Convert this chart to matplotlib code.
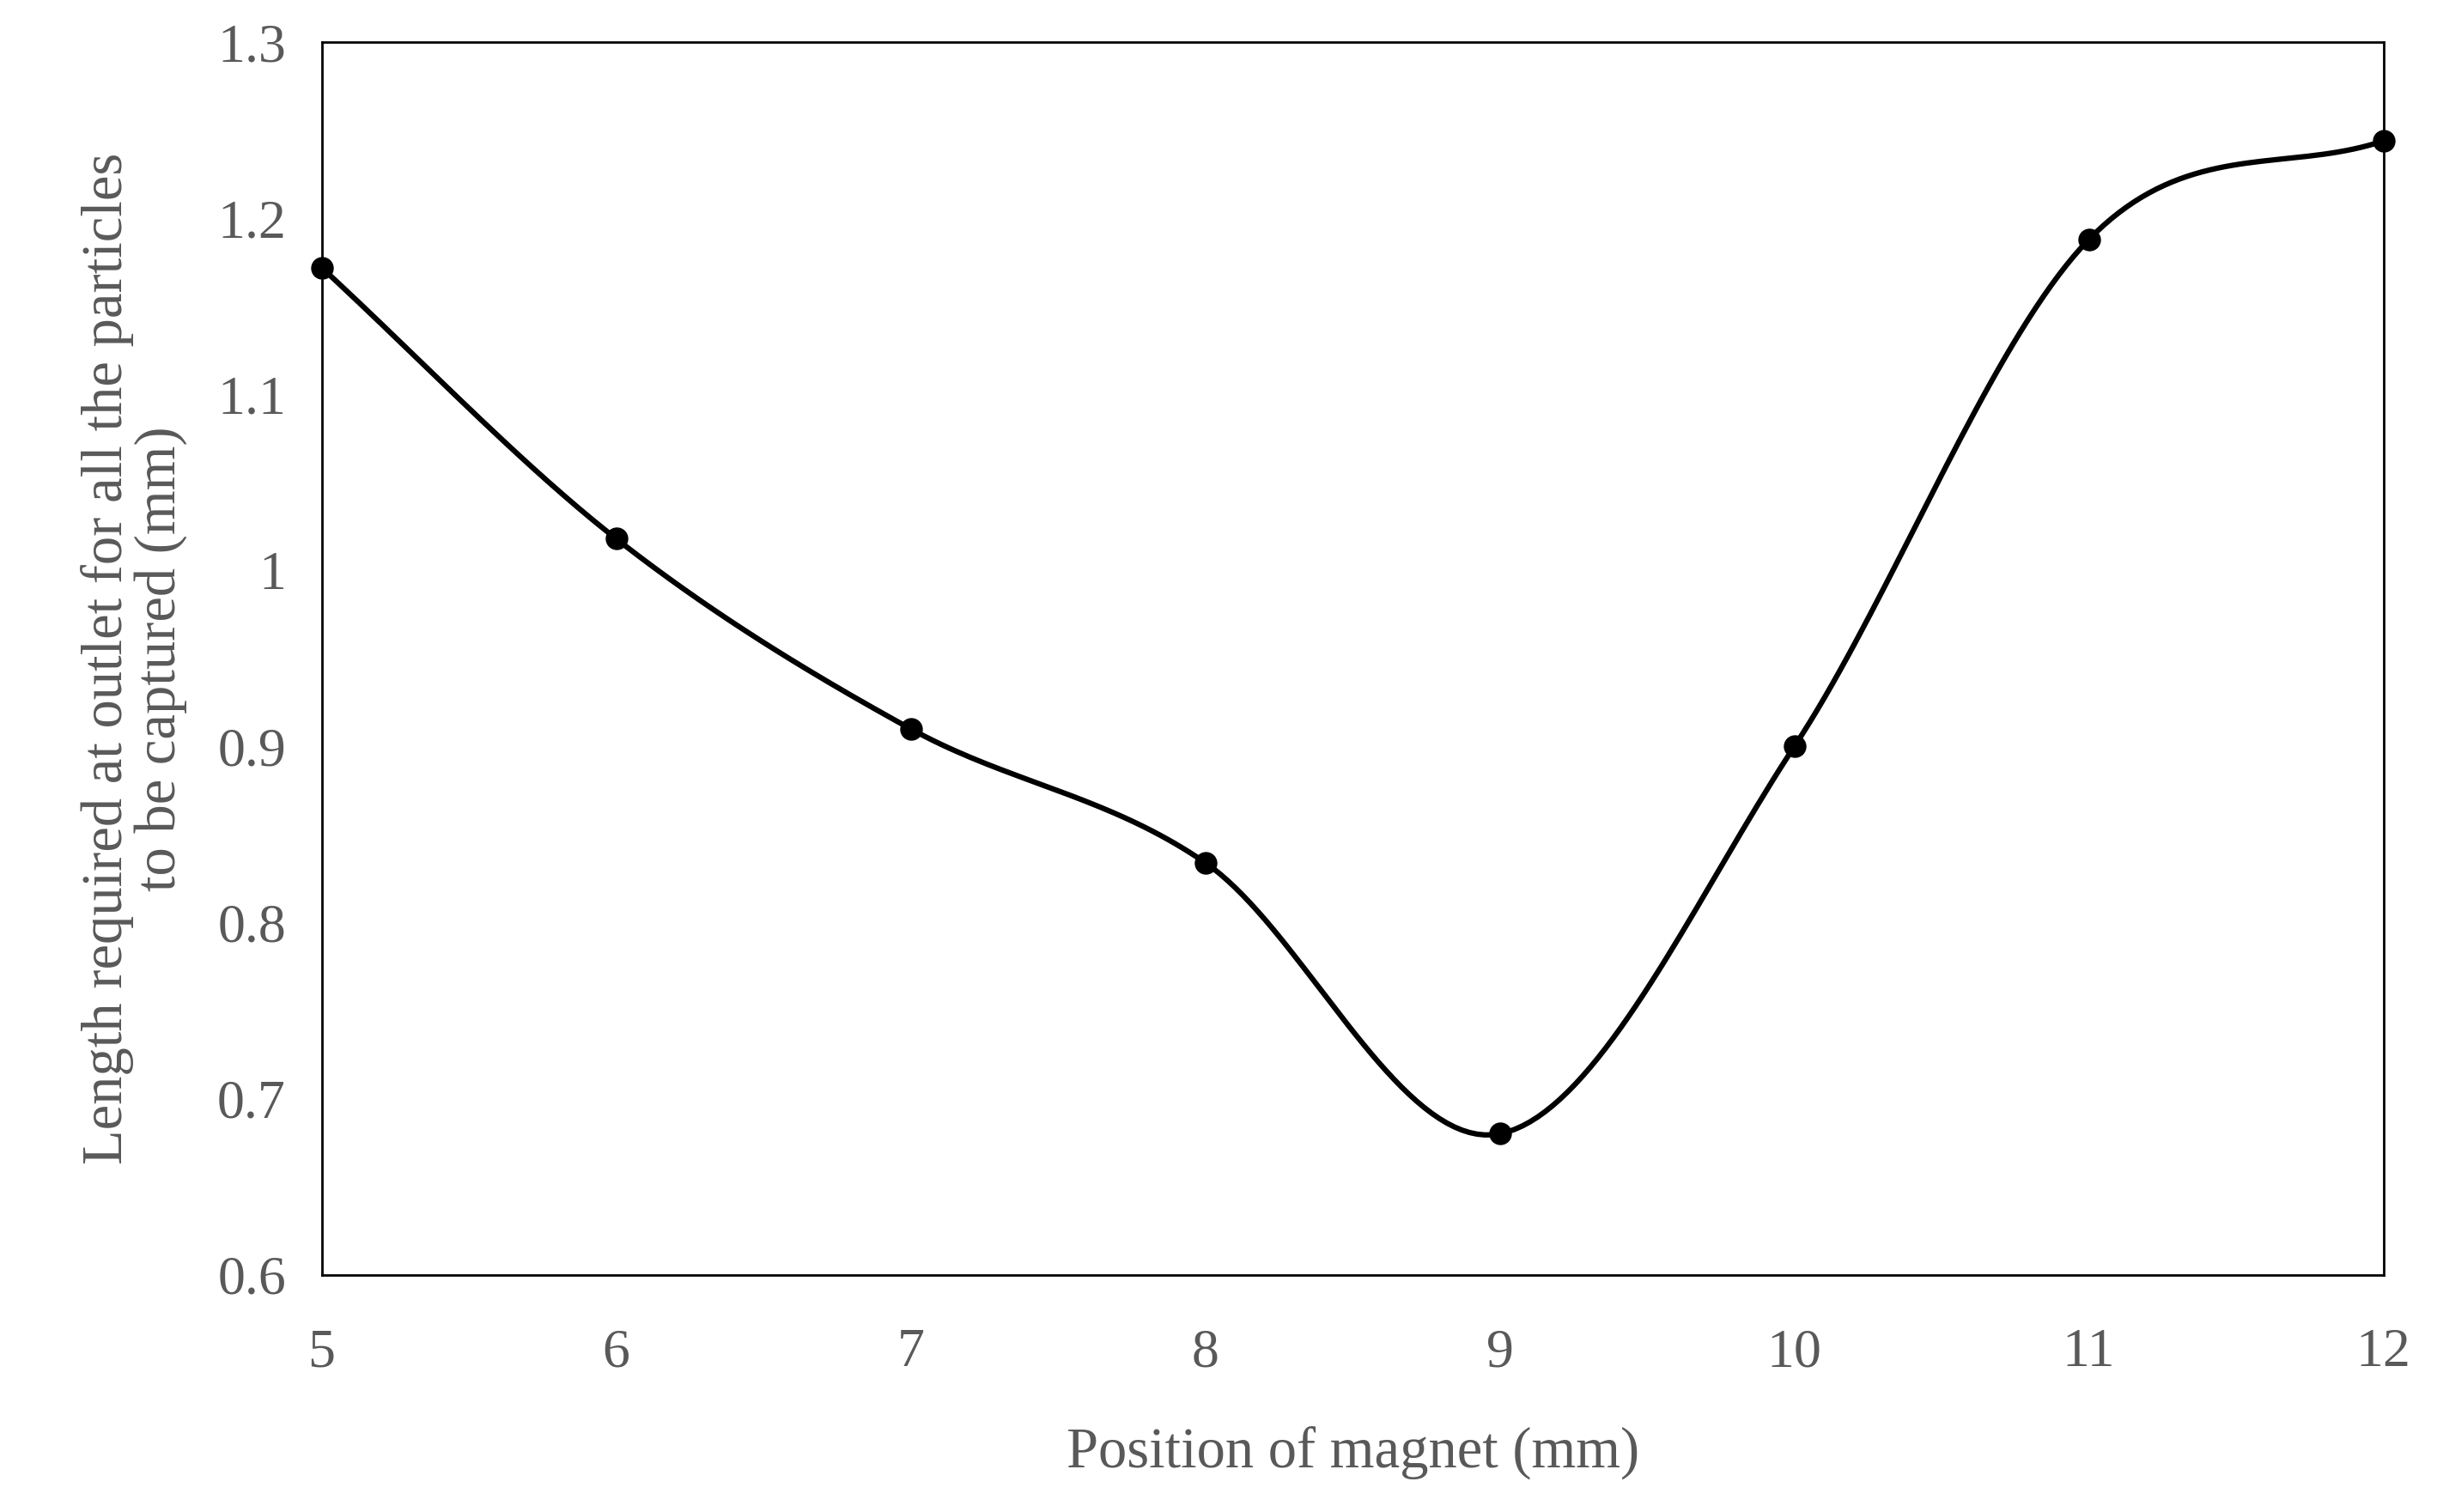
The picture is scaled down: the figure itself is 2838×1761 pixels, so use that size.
import numpy as np
import matplotlib

matplotlib.use("Agg")
import matplotlib.pyplot as plt  # noqa: E402

positions = [5, 6, 7, 8, 9, 10, 11, 12]
lengths = [1.172, 1.018, 0.910, 0.834, 0.680, 0.900, 1.188, 1.244]

GREY = "#595959"


def catmull_rom(x, y, n=40):
    # Excel-like smoothed line through the points
    x = np.asarray(x, float)
    y = np.asarray(y, float)
    px = np.concatenate([[2 * x[0] - x[1]], x, [2 * x[-1] - x[-2]]])
    py = np.concatenate([[2 * y[0] - y[1]], y, [2 * y[-1] - y[-2]]])
    xs, ys = [], []
    t = np.linspace(0, 1, n)
    for i in range(1, len(px) - 2):
        for p, out in ((px, xs), (py, ys)):
            p0, p1, p2, p3 = p[i - 1], p[i], p[i + 1], p[i + 2]
            out.extend(0.5 * (2 * p1 + (-p0 + p2) * t
                              + (2 * p0 - 5 * p1 + 4 * p2 - p3) * t ** 2
                              + (-p0 + 3 * p1 - 3 * p2 + p3) * t ** 3))
    return xs, ys


plt.rcParams["font.family"] = "Liberation Serif"
fig = plt.figure(figsize=(28.38, 17.61), dpi=100)
ax = fig.add_axes([0.132, 0.157, 0.846, 0.815])

sx, sy = catmull_rom(positions, lengths)
ax.plot(sx, sy, color="black", lw=4.5, clip_on=False)
ax.plot(positions, lengths, "o", color="black", ms=18, clip_on=False, zorder=4)

ax.set_xlim(5, 12)
ax.set_ylim(0.6, 1.3)
ax.set_yticks(np.arange(0.6, 1.31, 0.1))
ax.set_yticklabels(["0.6", "0.7", "0.8", "0.9", "1", "1.1", "1.2", "1.3"])
ax.tick_params(axis="both", length=0, labelsize=46, colors=GREY)
ax.tick_params(axis="x", pad=45)
ax.tick_params(axis="y", pad=30)
for s in ax.spines.values():
    s.set_color("black")
    s.set_linewidth(2)

ax.set_xlabel("Position of magnet (mm)", fontsize=48, color=GREY, labelpad=40)
ax.set_ylabel("Length required at outlet for all the particles\nto be captured (mm)",
              fontsize=48, color=GREY, labelpad=25, linespacing=1.0)

fig.savefig("out.png", dpi=100)
